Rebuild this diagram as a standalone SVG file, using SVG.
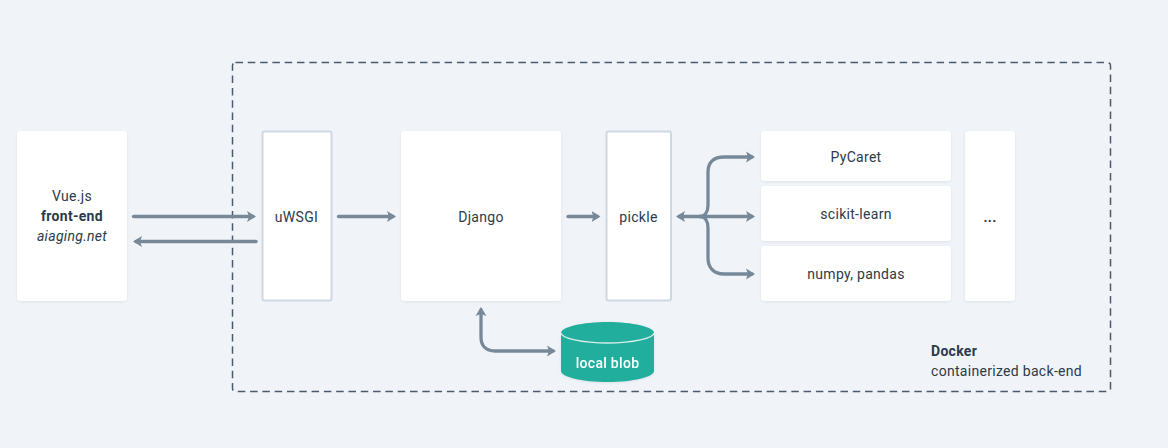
<svg xmlns="http://www.w3.org/2000/svg" width="1168" height="448" viewBox="0 0 1168 448">
<defs>
<marker id="arrow" markerUnits="userSpaceOnUse" markerWidth="10" markerHeight="12" refX="6" refY="6" orient="auto-start-reverse"><path d="M0 .5 L9 6 L0 11.500 L2 6 Z" fill="#778899"/></marker>
<filter id="soft" x="-10%" y="-10%" width="120%" height="120%"><feDropShadow dx="0" dy="1" stdDeviation="1.200" flood-color="#5a6a7a" flood-opacity=".12"/></filter>
</defs>
<style>
text{font-family:"Roboto","Liberation Sans",sans-serif;font-size:14px;fill:#2c3a4a;text-anchor:middle;letter-spacing:.3px}
.box{fill:#fff;filter:url(#soft)}
.outlined{fill:#fff;stroke:#cdd8e3;stroke-width:2}
.conn{fill:none;stroke:#778899;stroke-width:3.300;stroke-linecap:round;marker-end:url(#arrow)}
.both{marker-start:url(#arrow)}
.b{font-weight:700}
.i{font-style:italic}
</style>
<rect width="1168" height="448" fill="#f0f4f8"/>
<rect id="docker-frame" x="232.500" y="62.500" width="878" height="329" rx="3" fill="none" stroke="#4a5a6c" stroke-width="1.500" stroke-dasharray="7.500 4.800"/>
<g id="frontend"><rect class="box" x="17" y="131" width="110" height="170" rx="3"/>
<text x="72" y="201">Vue.js</text><text class="b" x="72" y="221">front-end</text><text class="i" x="72" y="241">aiaging.net</text></g>
<g id="uwsgi"><rect class="outlined" x="262.500" y="131.500" width="69" height="169" rx="2"/><text x="296.500" y="222">uWSGI</text></g>
<g id="django"><rect class="box" x="401" y="131" width="160" height="170" rx="3"/><text x="481" y="222">Django</text></g>
<g id="pickle"><rect class="outlined" x="606.500" y="131.500" width="64.500" height="169" rx="2"/><text x="638.500" y="222">pickle</text></g>
<g id="pycaret"><rect class="box" x="761" y="131" width="190" height="50" rx="3"/><text x="856" y="162">PyCaret</text></g>
<g id="scikit"><rect class="box" x="761" y="186" width="190" height="55" rx="3"/><text x="856" y="219">scikit-learn</text></g>
<g id="numpy"><rect class="box" x="761" y="246" width="190" height="55" rx="3"/><text x="856" y="279">numpy, pandas</text></g>
<g id="more"><rect class="box" x="965" y="131" width="50" height="170" rx="3"/><text class="b" x="990" y="222">...</text></g>
<g id="blob" filter="url(#soft)">
<path d="M561 333 V371 C561 377 582 382 607.500 382 C633 382 654 377 654 371 V333 C654 327 633 322 607.500 322 C582 322 561 327 561 333 Z" fill="#20ae9c"/>
<path d="M561 333 C561 338 582 343 607.500 343 C633 343 654 338 654 333" fill="none" stroke="#d8eeea" stroke-width="1.500"/>
<text x="607.500" y="368" style="fill:#fff;font-weight:500">local blob</text></g>
<g id="docker-label"><text class="b" x="931" y="356" style="text-anchor:start">Docker</text><text x="931" y="376" style="text-anchor:start">containerized back-end</text></g>
<g id="connectors">
<path class="conn" d="M133.500 216.500 H253"/>
<path class="conn" d="M256 241.500 H136"/>
<path class="conn" d="M338.500 216.500 H393"/>
<path class="conn" d="M568 216.500 H597.500"/>
<path class="conn" d="M700 216.500 H679"/>
<path class="conn" d="M700 216.500 H752"/>
<path class="conn" d="M700 216.500 C705 216.500 708 212 708 205 V172 C708 162 714 157 724 157 H752"/>
<path class="conn" d="M700 216.500 C705 216.500 708 221 708 228 V258 C708 268 714 274 724 274 H752"/>
<path class="conn both" d="M481 310 V337 C481 346 486 351 495 351 H553"/>
</g>
</svg>
